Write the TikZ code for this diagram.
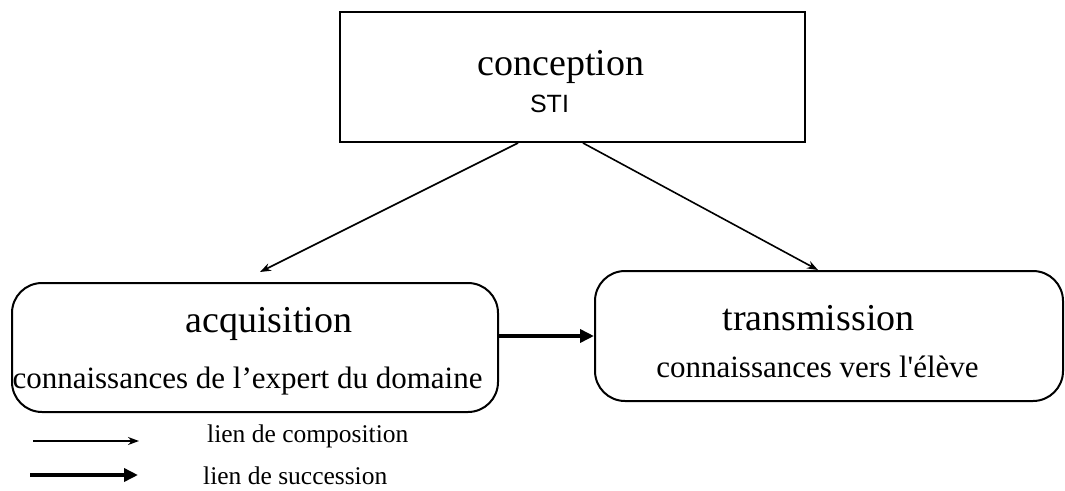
\documentclass[tikz,border=0pt]{standalone}
\usepackage{fontspec}
\setmainfont{Liberation Serif}[Ligatures=TeXOff]
\setsansfont{Liberation Sans}
\usetikzlibrary{arrows.meta}

\begin{document}
\begin{tikzpicture}[x=1pt,y=-1pt,
  box/.style={draw,line width=2pt,inner sep=0pt,minimum width=#1},
  stage/.style={box=#1,rounded corners=30pt,minimum height=129pt},
  title/.style={inner sep=0pt,anchor=base,font=\fontsize{38}{40}\selectfont},
  sub/.style={inner sep=0pt,anchor=base,font=\fontsize{31}{33}\selectfont},
  legendtext/.style={inner sep=0pt,anchor=base west,font=\fontsize{25.5}{27}\selectfont},
  compo/.style={line width=1.6pt,-{Stealth[length=11pt,width=8pt]}},
  succ/.style={line width=4pt,-{Triangle[length=14pt,width=13pt]}}]
\useasboundingbox (0,0) rectangle (1065,490);

% design box
\node[box=465pt,minimum height=130pt] (conc) at (572.5,77) {};
\node[title] (concT) at (561,75) {conception};
\node[inner sep=0pt,anchor=base,font=\sffamily\fontsize{25}{27}\selectfont] (concS) at (549.5,112) {STI};

% acquisition and transmission stages
\node[stage=486pt] (acq) at (255,347.5) {};
\node[title] (acqT) at (269,332) {acquisition};
\node[sub] (acqS) at (247.5,388) {connaissances de l’expert du domaine};

\node[stage=468pt,minimum height=130pt] (tra) at (829,336) {};
\node[title] (traT) at (818.5,330) {transmission};
\node[sub] (traS) at (817.5,377) {connaissances vers l'élève};

% links
\coordinate (acqTip) at (260,272);
\draw[compo] ([xshift=-54.5pt]conc.south) -- (acqTip);
\draw[compo] ([xshift=10.5pt]conc.south) -- ([xshift=-11pt]tra.north);
\draw[succ] ([yshift=11.5pt]acq.east) -- (tra.west);

% legend
\coordinate (l1a) at (33,441);
\coordinate (l1b) at (139,441);
\coordinate (l2a) at (30,475);
\coordinate (l2b) at (138,475);
\draw[compo] (l1a) -- (l1b);
\draw[succ] (l2a) -- (l2b);
\node[legendtext] (leg1) at (207,442) {lien de composition};
\node[legendtext] (leg2) at (203,484) {lien de succession};
\end{tikzpicture}
\end{document}
